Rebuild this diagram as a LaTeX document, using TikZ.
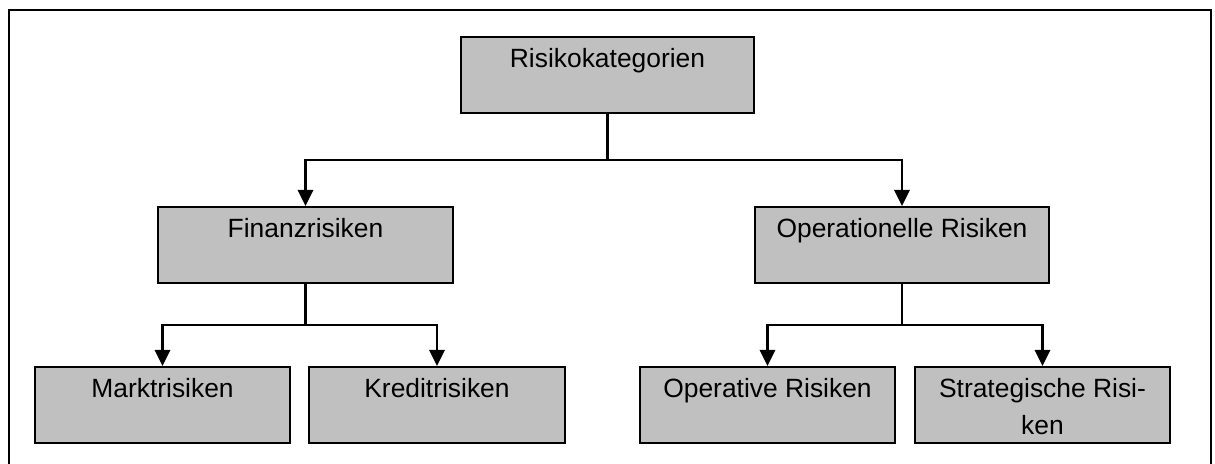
\documentclass[tikz,border=0pt]{standalone}
\usepackage{fontspec}
\setmainfont{Liberation Sans}
\usetikzlibrary{arrows.meta,calc}
\definecolor{boxgray}{RGB}{192,192,192}
\begin{document}
\begin{tikzpicture}[x=0.75pt,y=-0.75pt,
  box/.style={draw=black,fill=boxgray,line width=1.6pt,inner sep=0pt,
    minimum height=57pt},
  lbl/.style={anchor=base,yshift=-24pt,inner sep=0pt,
    font=\fontsize{19.8}{27.75}\selectfont},
  conn/.style={line width=1.6pt,draw=black},
  arr/.style={conn,-{Triangle[length=12pt,width=11.5pt]}}]
  \useasboundingbox (0,0) rectangle (1215,464);
  % outer frame, open at the bottom edge
  \draw[line width=2.2pt] (9,480) -- (9,10) -- (1211,10) -- (1211,480);

  % boxes
  \node[box,minimum width=219.75pt,label={[lbl]north:Risikokategorien}] (root) at (607.5,75) {};
  \node[box,minimum width=221.25pt,label={[lbl]north:Finanzrisiken}] (fin) at (305.5,245) {};
  \node[box,minimum width=220.5pt,label={[lbl]north:Operationelle Risiken}] (ops) at (902,245) {};
  \node[box,minimum width=191.25pt,label={[lbl]north:Marktrisiken}] (markt) at (162.5,405) {};
  \node[box,minimum width=192pt,label={[lbl]north:Kreditrisiken}] (kredit) at (437,405) {};
  \node[box,minimum width=191.25pt,label={[lbl]north:Operative Risiken}] (operativ) at (767.5,405) {};
  \node[box,minimum width=191.25pt,label={[lbl]north:{\parbox[t]{180pt}{\centering Strategische Risi-\\ken}}}] (strat) at (1042.5,405) {};

  % bus points of the tree
  \coordinate (bus1) at (607.5,160);
  \coordinate (bus2) at (305.5,325);
  \coordinate (bus3) at (902,325);

  % connectors
  \draw[conn] (root.south) -- (bus1);
  \draw[arr] (bus1) -| (fin.north);
  \draw[arr] (bus1) -| (ops.north);
  \draw[conn] (fin.south) -- (bus2);
  \draw[arr] (bus2) -| (markt.north);
  \draw[arr] (bus2) -| (kredit.north);
  \draw[conn] (ops.south) -- (bus3);
  \draw[arr] (bus3) -| (operativ.north);
  \draw[arr] (bus3) -| (strat.north);
\end{tikzpicture}
\end{document}
